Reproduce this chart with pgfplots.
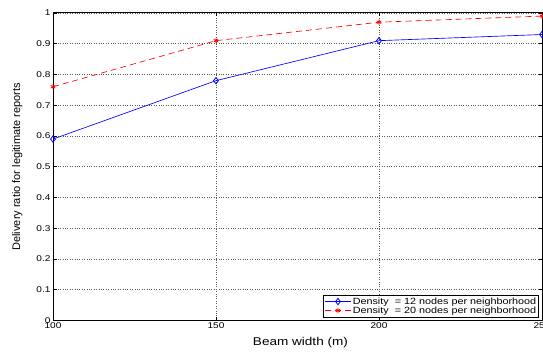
\documentclass[border=0pt]{standalone}
\usepackage{pgfplots}
\pgfplotsset{compat=1.18}
\usepackage{fontspec}
\setmainfont{Liberation Sans}[FakeStretch=1.2]
\newfontfamily\ylabfont{Liberation Sans}
\begin{document}
\begin{tikzpicture}
% fixed page frame: 53pt of room on the left, axis flush with the right edge
\useasboundingbox (-53pt,-32.5pt) rectangle (490pt,320.5pt);
\begin{axis}[
  scale only axis,
  width=489pt, height=307.5pt,
  xmin=100, xmax=250, ymin=0, ymax=1,
  xtick={100,150,200,250},
  ytick={0,0.1,...,1},
  yticklabels={0,0.1,0.2,0.3,0.4,0.5,0.6,0.7,0.8,0.9,1},
  /pgf/number format/assume math mode=true,
  tick label style={font=\fontsize{8.4}{9}\selectfont},
  yticklabel style={xshift=1pt},
  xticklabel style={yshift=1pt},
  grid=major,
  major grid style={black!65, dotted, line width=0.55pt},
  tick align=inside,
  major tick length=3.5pt,
  tick style={black, line width=0.6pt},
  axis line style={black, line width=1pt},
  xlabel={Beam width (m)},
  ylabel={Delivery ratio for legitimate reports},
  xlabel style={font=\fontsize{11.3}{13}\selectfont},
  ylabel style={font=\fontsize{11}{13}\ylabfont},
  every axis x label/.append style={at={(axis description cs:0.506,-0.073)}, anchor=center},
  every axis y label/.append style={at={(axis description cs:-0.073,0.5)}, anchor=center},
  legend style={
    at={(rel axis cs:0.994,0.01)}, anchor=south east,
    font=\fontsize{9}{10}\selectfont,
    draw=black, line width=0.7pt,
    inner sep=1pt, row sep=-2pt,
    nodes={inner sep=1.5pt},
    legend cell align=left,
  },
  legend image code/.code={%
    \draw[mark repeat=2, mark phase=2]
      plot coordinates {(0pt,0pt) (13pt,0pt) (26pt,0pt)};},
]
\addplot[blue, line width=0.65pt, mark=diamond, mark size=3.2pt,
  mark options={solid, line width=0.8pt}]
  coordinates {(100,0.59) (150,0.78) (200,0.91) (250,0.93)};
\addlegendentry{Density\ \ = 12 nodes per neighborhood}
\addplot[red, line width=0.65pt, dash pattern=on 6pt off 4pt, mark=asterisk, mark size=2.6pt,
  mark options={solid, line width=0.8pt}]
  coordinates {(100,0.76) (150,0.91) (200,0.97) (250,0.99)};
\addlegendentry{Density\ \ = 20 nodes per neighborhood}
\end{axis}
\end{tikzpicture}
\end{document}
